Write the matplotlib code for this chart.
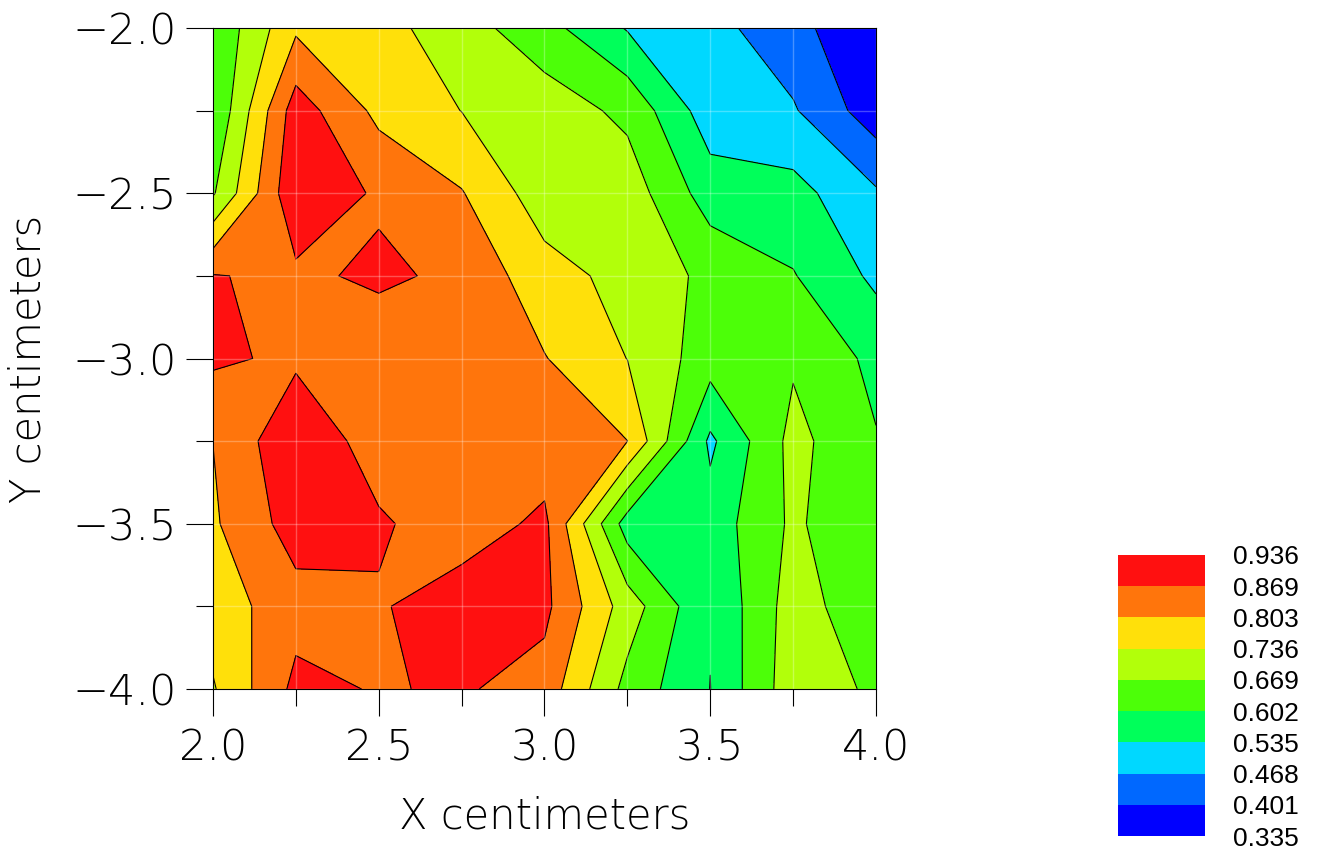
import numpy as np
import matplotlib
matplotlib.use("Agg")
import matplotlib.pyplot as plt
import matplotlib.tri as mtri
from matplotlib import font_manager as fm
from matplotlib.ticker import FuncFormatter, MultipleLocator

# ---------------- data ----------------
x_cm = [2.0, 2.25, 2.5, 2.75, 3.0, 3.25, 3.5, 3.75, 4.0]
y_cm = [-2.0, -2.25, -2.5, -2.75, -3.0, -3.25, -3.5, -3.75, -4.0]

row_y200 = [0.611, 0.792, 0.760, 0.698, 0.626, 0.530, 0.490, 0.425, 0.335]
row_y225 = [0.607, 0.903, 0.786, 0.735, 0.706, 0.653, 0.497, 0.475, 0.363]
row_y250 = [0.662, 0.924, 0.859, 0.807, 0.699, 0.706, 0.569, 0.559, 0.477]
row_y275 = [0.8725, 0.855, 0.882, 0.854, 0.763, 0.714, 0.653, 0.606, 0.521]
row_y300 = [0.880, 0.857, 0.820, 0.835, 0.806, 0.735, 0.633, 0.660, 0.585]
row_y325 = [0.8035, 0.924, 0.835, 0.845, 0.830, 0.8035, 0.522, 0.690, 0.606]
row_y350 = [0.794, 0.899, 0.878, 0.833, 0.884, 0.570, 0.565, 0.681, 0.606]
row_y375 = [0.767, 0.844, 0.8625, 0.906, 0.885, 0.704, 0.540, 0.701, 0.619]
row_y400 = [0.730, 0.886, 0.8645, 0.876, 0.843, 0.647, 0.534, 0.710, 0.657]

levels = [0.335, 0.401, 0.468, 0.535, 0.602, 0.669, 0.736, 0.803, 0.869, 0.936]
level_labels = ["0.335", "0.401", "0.468", "0.535", "0.602",
                "0.669", "0.736", "0.803", "0.869", "0.936"]
band_colors = ["#0000FF", "#0068FF", "#00D8FF", "#00FF5A", "#4CFF08",
               "#B2FF0A", "#FFE00A", "#FF750C", "#FF1010"]

x_label = "X centimeters"
y_label = "Y centimeters"

# ---------------- fonts ----------------
def wnum(f):
    w = f.weight
    if isinstance(w, str):
        w = fm.weight_dict.get(w, 400)
    return w

def pick_thin_font():
    for fam in ["DejaVu Sans", "Roboto", "Lato", "Open Sans", "Inter", "Noto Sans"]:
        ents = [f for f in fm.fontManager.ttflist
                if f.name == fam and f.style == "normal"]
        if not ents:
            continue
        e = min(ents, key=wnum)
        if wnum(e) <= 300:
            return fam, e.fname
    return None, None

thin_fam, thin_path = pick_thin_font()
scale = 1.0 if thin_fam == "DejaVu Sans" else 1.1

def thin_fp(size):
    if thin_path:
        return fm.FontProperties(fname=thin_path, size=size * scale)
    return fm.FontProperties(family="DejaVu Sans", size=size, weight="light")

# ---------------- figure ----------------
W, H = 1319, 851
fig = plt.figure(figsize=(W / 100, H / 100), dpi=100)
ax = fig.add_axes([213 / W, 1 - 689 / H, (876 - 213) / W, (689 - 28) / H])

nx, ny = len(x_cm), len(y_cm)
X, Y = np.meshgrid(x_cm, y_cm)
Z = np.array([row_y200, row_y225, row_y250, row_y275, row_y300,
              row_y325, row_y350, row_y375, row_y400])

# main filled contours on the grid
cf = ax.contourf(X, Y, Z, levels=levels, colors=band_colors, zorder=1)
ax.contour(X, Y, Z, levels=levels[1:-1], colors="black",
           linewidths=0.8, zorder=1.2)

# saddle cells where the grid algorithm would join the high corners:
# redraw them split so that the high corners stay apart
sad_tris = []
for r in range(ny - 1):
    for c in range(nx - 1):
        tl, tr = r * nx + c, r * nx + c + 1
        bl, br = (r + 1) * nx + c, (r + 1) * nx + c + 1
        ztl, ztr, zbl, zbr = Z[r, c], Z[r, c + 1], Z[r + 1, c], Z[r + 1, c + 1]
        centre = (ztl + ztr + zbl + zbr) / 4.0
        for lev in levels[1:-1]:
            a, b, p, q = ztl > lev, ztr > lev, zbl > lev, zbr > lev
            if a == q and b == p and a != b and centre > lev:
                if a:   # TL & BR high -> split along TR-BL
                    sad_tris += [[tl, tr, bl], [tr, br, bl]]
                else:   # TR & BL high -> split along TL-BR
                    sad_tris += [[tl, tr, br], [tl, br, bl]]
                break
if sad_tris:
    tri_s = mtri.Triangulation(X.ravel(), Y.ravel(), np.array(sad_tris))
    ax.tricontourf(tri_s, Z.ravel(), levels=levels, colors=band_colors,
                   zorder=1.4)
    ax.tricontour(tri_s, Z.ravel(), levels=levels[1:-1], colors="black",
                  linewidths=0.8, zorder=1.6)

ax.set_xlim(2.0, 4.0)
ax.set_ylim(-4.0, -2.0)

ax.xaxis.set_major_locator(MultipleLocator(0.5))
ax.xaxis.set_minor_locator(MultipleLocator(0.25))
ax.yaxis.set_major_locator(MultipleLocator(0.5))
ax.yaxis.set_minor_locator(MultipleLocator(0.25))

ax.xaxis.set_major_formatter(FuncFormatter(lambda v, p: f"{v:.1f}"))
ax.yaxis.set_major_formatter(
    FuncFormatter(lambda v, p: f"{v:.1f}".replace("-", "\u2212")))

ax.set_axisbelow(False)
ax.grid(which="both", color="white", alpha=0.28, linewidth=1.0)

ax.tick_params(which="major", direction="out", length=19.4, width=0.8,
               color="black")
ax.tick_params(which="minor", direction="out", length=12.2, width=0.8,
               color="black")
ax.tick_params(axis="x", which="major", pad=8)
ax.tick_params(axis="y", which="major", pad=7)

tick_fp = thin_fp(31)
for lab in ax.get_xticklabels() + ax.get_yticklabels():
    lab.set_fontproperties(tick_fp)

for s in ax.spines.values():
    s.set_linewidth(0.8)
    s.set_color("black")
    s.set_zorder(4)

ax.set_xlabel(x_label, fontproperties=thin_fp(30), labelpad=20)
ax.set_ylabel(y_label, fontproperties=thin_fp(30), labelpad=17)

# ---------------- colour key ----------------
cax = fig.add_axes([1118 / W, 1 - 836 / H, (1205 - 1118) / W, (836 - 555) / H])
cb = fig.colorbar(cf, cax=cax, ticks=levels)
cb.outline.set_visible(False)
cb.ax.set_yticklabels(level_labels)
cb.ax.tick_params(length=0, pad=20)
for lab in cb.ax.get_yticklabels():
    lab.set_fontfamily(["Liberation Sans", "DejaVu Sans"])
    lab.set_fontsize(19)

fig.savefig("out.png", dpi=100)
